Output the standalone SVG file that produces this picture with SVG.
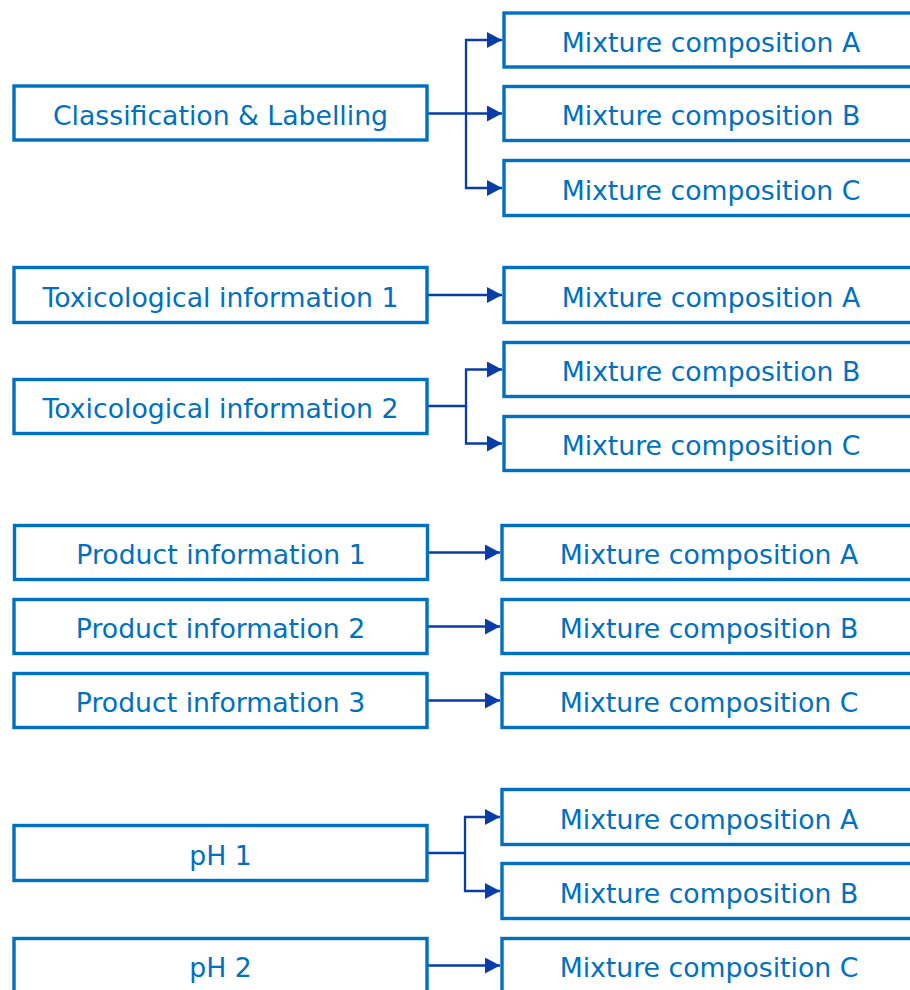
<svg xmlns="http://www.w3.org/2000/svg" width="910" height="990" viewBox="0 0 910 990">
<defs>
<marker id="arr" markerWidth="15" markerHeight="16" refX="15" refY="8" orient="auto" markerUnits="userSpaceOnUse">
<path d="M0,0 L15,8 L0,16 Z" fill="#0a3ca8"/>
</marker>
<style>
.box{fill:#fff;stroke:#0070c0;stroke-width:3.4;}
.t{font-family:"DejaVu Sans","Verdana",sans-serif;font-size:26.7px;fill:#0070c0;text-anchor:middle;}
.c{fill:none;stroke:#0a3ca8;stroke-width:2.3;}
</style>
</defs>
<rect width="910" height="990" fill="#fff"/>
<g id="connectors">
<path class="c" d="M428,113.5 H502" marker-end="url(#arr)"/>
<path class="c" d="M466,113.5 V40 H502" marker-end="url(#arr)"/>
<path class="c" d="M466,113.5 V188 H502" marker-end="url(#arr)"/>
<path class="c" d="M428,295 H502" marker-end="url(#arr)"/>
<path class="c" d="M428,406 H466 V369.5 H502" marker-end="url(#arr)"/>
<path class="c" d="M466,406 V443.5 H502" marker-end="url(#arr)"/>
<path class="c" d="M428,552.5 H500" marker-end="url(#arr)"/>
<path class="c" d="M428,626.5 H500" marker-end="url(#arr)"/>
<path class="c" d="M428,700.5 H500" marker-end="url(#arr)"/>
<path class="c" d="M428,853 H465 V817 H500" marker-end="url(#arr)"/>
<path class="c" d="M465,853 V891 H500" marker-end="url(#arr)"/>
<path class="c" d="M428,965.5 H500" marker-end="url(#arr)"/>
</g>
<g id="n-cl"><rect class="box" x="14" y="86" width="413" height="54"/><text class="t" x="220.5" y="125">Classification &amp; Labelling</text></g>
<g id="n-cl-a"><rect class="box" x="504" y="13" width="420" height="54"/><text class="t" x="711" y="51.5">Mixture composition A</text></g>
<g id="n-cl-b"><rect class="box" x="504" y="86.5" width="420" height="54"/><text class="t" x="711" y="125">Mixture composition B</text></g>
<g id="n-cl-c"><rect class="box" x="504" y="160.5" width="420" height="55"/><text class="t" x="711" y="199.5">Mixture composition C</text></g>
<g id="n-tox1"><rect class="box" x="14" y="267.5" width="413" height="55"/><text class="t" x="220.5" y="306.5">Toxicological information 1</text></g>
<g id="n-tox2"><rect class="box" x="14" y="379.5" width="413" height="54"/><text class="t" x="220.5" y="418">Toxicological information 2</text></g>
<g id="n-tox-a"><rect class="box" x="504" y="267.5" width="420" height="55"/><text class="t" x="711" y="306.5">Mixture composition A</text></g>
<g id="n-tox-b"><rect class="box" x="504" y="342.5" width="420" height="54"/><text class="t" x="711" y="381">Mixture composition B</text></g>
<g id="n-tox-c"><rect class="box" x="504" y="416.5" width="420" height="54"/><text class="t" x="711" y="455">Mixture composition C</text></g>
<g id="n-p1"><rect class="box" x="14.5" y="525.5" width="413" height="54"/><text class="t" x="221" y="564">Product information 1</text></g>
<g id="n-p2"><rect class="box" x="14" y="599.5" width="413" height="54"/><text class="t" x="220.5" y="638">Product information 2</text></g>
<g id="n-p3"><rect class="box" x="14" y="673.5" width="413" height="54"/><text class="t" x="220.5" y="712">Product information 3</text></g>
<g id="n-p-a"><rect class="box" x="502" y="525.5" width="420" height="54"/><text class="t" x="709" y="564">Mixture composition A</text></g>
<g id="n-p-b"><rect class="box" x="502" y="599.5" width="420" height="54"/><text class="t" x="709" y="638">Mixture composition B</text></g>
<g id="n-p-c"><rect class="box" x="502" y="673.5" width="420" height="54"/><text class="t" x="709" y="712">Mixture composition C</text></g>
<g id="n-ph1"><rect class="box" x="14" y="825.5" width="413" height="55"/><text class="t" x="220.5" y="864.5">pH 1</text></g>
<g id="n-ph2"><rect class="box" x="14" y="938.5" width="413" height="60"/><text class="t" x="220.5" y="977">pH 2</text></g>
<g id="n-ph-a"><rect class="box" x="502" y="789.5" width="420" height="55"/><text class="t" x="709" y="828.5">Mixture composition A</text></g>
<g id="n-ph-b"><rect class="box" x="502" y="863.5" width="420" height="55"/><text class="t" x="709" y="902.5">Mixture composition B</text></g>
<g id="n-ph-c"><rect class="box" x="502" y="938.5" width="420" height="60"/><text class="t" x="709" y="977">Mixture composition C</text></g>
</svg>
